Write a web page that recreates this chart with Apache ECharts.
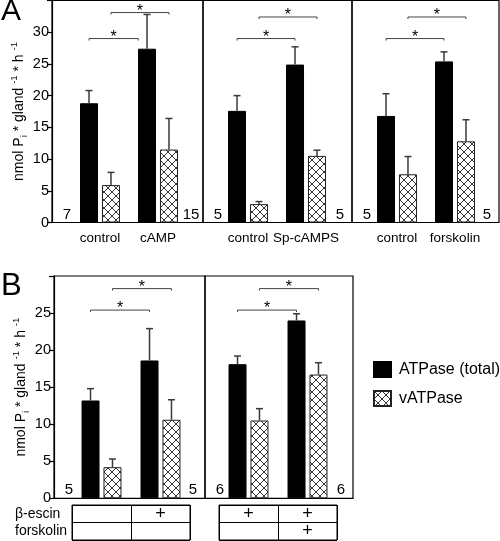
<!DOCTYPE html>
<html><head><meta charset="utf-8">
<script src="https://cdn.jsdelivr.net/npm/echarts@6/dist/echarts.min.js"></script>
<style>html,body{margin:0;padding:0;background:#fff}#c{width:500px;height:541px}</style>
</head><body><div id="c"></div>
<script>
// ---------------- DATA ----------------
const seriesNames = ['ATPase (total)', 'vATPase'];
// Panel A (three sub-panels)
const catsA = [['control', 'cAMP'], ['control', 'Sp-cAMPS'], ['control', 'forskolin']];
const totalA = [[18.8, 27.4], [17.6, 24.9], [16.8, 25.4]];
const totalErrA = [[2.0, 5.4], [2.4, 2.8], [3.5, 1.5]];
const vA = [[5.9, 11.5], [2.9, 10.5], [7.6, 12.8]];
const vErrA = [[2.0, 4.9], [0.4, 0.9], [2.8, 3.4]];
const nA = [[7, 15], [5, 5], [5, 5]];
// Panel B (two sub-panels)
const catsB = [['c1', 'c2'], ['c3', 'c4']];
const totalB = [[13.2, 18.6], [18.1, 24.0]];
const totalErrB = [[1.6, 4.3], [1.1, 0.9]];
const vB = [[4.2, 10.6], [10.5, 16.7]];
const vErrB = [[1.1, 2.7], [1.6, 1.6]];
const nB = [[5, 5], [6, 6]];
// condition table under B
const tableRows = ['β-escin', 'forskolin'];
const escinRow = [['', '+'], ['+', '+']];
const forskolinRow = [['', ''], ['', '+']];
// significance brackets: [fromCat, fromSlot, toCat, toSlot, yValue]
const bracketsA = [
  [[0, 0, 1, -0.4, 29.0], [0, 1, 1, 1, 33.1]],
  [[0, 0, 1, 0, 29.0], [0, 1, 1, 1, 32.4]],
  [[0, 0, 1, 0, 29.0], [0, 1, 1, 1, 32.4]]
];
const bracketsB = [
  [[0, 0, 1, 0, 25.4], [0, 1, 1, 1, 28.3]],
  [[0, 0, 1, 0, 25.4], [0, 1, 1, 1, 28.3]]
];
const yAxisA = { min: 0, max: 35, interval: 5 };
const yAxisB = { min: 0, max: 30, interval: 5 };

// ---------------- LAYOUT / STYLE ----------------
const FONT = "'Liberation Sans',Arial,sans-serif";
const LA = { frameX: [52, 203, 352, 499], top: 0.5, bottom: 222.5, gridLeft: [71, 219, 368], gridW: 116 };
const LB = { frameX: [54, 205, 353], top: 276, bottom: 498.3, gridLeft: [72, 219], gridW: 118 };
const LT = { top: 505, h: 35 };
const BAR_W = 18, BAR_GAP = '22%';

function makeHatch() {
  const c = document.createElement('canvas'); c.width = 8; c.height = 8;
  const x = c.getContext('2d');
  x.fillStyle = '#fff'; x.fillRect(0, 0, 8, 8);
  x.strokeStyle = '#333'; x.lineWidth = 1;
  x.beginPath(); x.moveTo(-1, -1); x.lineTo(9, 9); x.moveTo(9, -1); x.lineTo(-1, 9); x.stroke();
  return c;
}
const hatch = { image: makeHatch(), repeat: 'repeat' };

const chart = echarts.init(document.getElementById('c'), null, { renderer: 'canvas' });

const grids = [], xAxes = [], yAxes = [], series = [], graphics = [];

function errRender(params, api) {
  const cat = api.value(0), val = api.value(1), err = api.value(2), slot = api.value(3);
  const lay = api.barLayout({ count: 2, barWidth: BAR_W, barGap: BAR_GAP });
  const p0 = api.coord([cat, val]), p1 = api.coord([cat, val + err]);
  const x = p0[0] + lay[slot].offsetCenter;
  const st = { stroke: '#3a3a3a', lineWidth: 1.5 };
  return { type: 'group', children: [
    { type: 'line', shape: { x1: x, y1: p0[1], x2: x, y2: p1[1] }, style: st },
    { type: 'line', shape: { x1: x - 3.5, y1: p1[1], x2: x + 3.5, y2: p1[1] }, style: st }
  ] };
}
function bracketRender(params, api) {
  const lay = api.barLayout({ count: 2, barWidth: BAR_W, barGap: BAR_GAP });
  const off = s => lay[0].offsetCenter + s * (lay[1].offsetCenter - lay[0].offsetCenter);
  const y = api.coord([0, api.value(4)])[1];
  const x1 = api.coord([api.value(0), 0])[0] + off(api.value(1));
  const x2 = api.coord([api.value(2), 0])[0] + off(api.value(3));
  return { type: 'group', children: [
    { type: 'polyline', shape: { points: [[x1, y + 2], [x1, y], [x2, y], [x2, y + 2]] }, style: { stroke: '#444', lineWidth: 1, fill: null } },
    { type: 'text', x: (x1 + x2) / 2, y: y - 1, style: { text: '*', font: '16px ' + FONT, fill: '#000', align: 'center', verticalAlign: 'middle', textAlign: 'center', textVerticalAlign: 'middle' } }
  ] };
}

function addPanel(L, i, cats, tot, totErr, vv, vErr, brackets, yCfg, showCatLabels, isFirst) {
  const g = grids.length;
  grids.push({ left: L.gridLeft[i], width: L.gridW, top: L.top, height: L.bottom - L.top, containLabel: false, outerBoundsMode: 'none' });
  xAxes.push({ type: 'category', gridIndex: g, data: cats, boundaryGap: true,
    axisLine: { show: false }, axisTick: { show: false }, splitLine: { show: false },
    axisLabel: { show: showCatLabels, color: '#000', fontFamily: FONT, fontSize: 13.5, margin: 9, interval: 0 } });
  yAxes.push({ type: 'value', gridIndex: g, min: yCfg.min, max: yCfg.max, interval: yCfg.interval,
    show: isFirst, offset: L.gridLeft[i] - L.frameX[i], splitLine: { show: false },
    axisLine: { show: true, lineStyle: { color: '#000', width: 1.2 } },
    axisTick: { show: true, length: 5, lineStyle: { color: '#000', width: 1.2 } },
    axisLabel: { color: '#000', fontFamily: FONT, fontSize: 14.5, margin: 3,
      formatter: v => (v === yCfg.max ? '' : String(v)) },
    name: '{a|nmol P}{s|i}{a| * gland }{u|-1}{a| * h }{u|-1}', nameLocation: 'middle', nameRotate: 90, nameGap: 22,
    nameTextStyle: { color: '#000', fontFamily: FONT, fontSize: 14,
      rich: { a: { fontFamily: FONT, fontSize: 14, color: '#000', lineHeight: 20 },
              s: { fontFamily: FONT, fontSize: 9.5, color: '#000', verticalAlign: 'bottom', lineHeight: 11 },
              u: { fontFamily: FONT, fontSize: 9.5, color: '#000', verticalAlign: 'top', lineHeight: 11 } } } });
  series.push({ type: 'bar', name: seriesNames[0], xAxisIndex: g, yAxisIndex: g, data: tot, barWidth: BAR_W, barGap: BAR_GAP,
    itemStyle: { color: '#000', borderColor: '#000', borderWidth: 1 }, z: 2 });
  series.push({ type: 'bar', name: seriesNames[1], xAxisIndex: g, yAxisIndex: g, data: vv, barWidth: BAR_W, barGap: BAR_GAP,
    itemStyle: { color: hatch, borderColor: '#222', borderWidth: 1 }, z: 2 });
  const errData = [];
  tot.forEach((v, k) => errData.push([k, v, totErr[k], 0]));
  vv.forEach((v, k) => errData.push([k, v, vErr[k], 1]));
  series.push({ type: 'custom', xAxisIndex: g, yAxisIndex: g, data: errData, renderItem: errRender,
    encode: { x: 0, y: 1 }, z: 3, silent: true });
  series.push({ type: 'custom', xAxisIndex: g, yAxisIndex: g, data: brackets, renderItem: bracketRender,
    encode: { x: 0, y: 4 }, z: 3, silent: true });
}

for (let i = 0; i < 3; i++) addPanel(LA, i, catsA[i], totalA[i], totalErrA[i], vA[i], vErrA[i], bracketsA[i], yAxisA, true, i === 0);
for (let i = 0; i < 2; i++) addPanel(LB, i, catsB[i], totalB[i], totalErrB[i], vB[i], vErrB[i], bracketsB[i], yAxisB, false, i === 0);

// condition tables under B
function plusRender(params, api) {
  const p = api.coord([api.value(0), api.value(1)]);
  return { type: 'text', x: p[0], y: p[1], style: { text: '+', font: '18px ' + FONT, fill: '#000', align: 'center', verticalAlign: 'middle', textAlign: 'center', textVerticalAlign: 'middle' } };
}
for (let i = 0; i < 2; i++) {
  const g = grids.length;
  grids.push({ left: LB.gridLeft[i], width: LB.gridW, top: LT.top, height: LT.h, show: true, borderColor: '#000', borderWidth: 1, backgroundColor: 'transparent', containLabel: false, outerBoundsMode: 'none' });
  xAxes.push({ type: 'category', gridIndex: g, data: catsB[i], boundaryGap: true,
    axisLine: { show: false }, axisTick: { show: false }, axisLabel: { show: false },
    splitLine: { show: true, interval: 0, lineStyle: { color: '#000', width: 1 } } });
  yAxes.push({ type: 'category', gridIndex: g, data: tableRows, inverse: true, boundaryGap: true,
    axisLine: { show: false }, axisTick: { show: false },
    axisLabel: { show: i === 0, interval: 0, align: 'left', margin: LB.gridLeft[0] - 15, color: '#000', fontFamily: FONT, fontSize: 14 },
    splitLine: { show: true, interval: 0, lineStyle: { color: '#000', width: 1 } } });
  const pd = [];
  [escinRow[i], forskolinRow[i]].forEach((row, r) => row.forEach((v, c) => { if (v === '+') pd.push([c, r]); }));
  series.push({ type: 'custom', xAxisIndex: g, yAxisIndex: g, data: pd, renderItem: plusRender, encode: { x: 0, y: 1 }, silent: true });
}

// frames
function frames(L) {
  for (let i = 0; i < L.frameX.length - 1; i++) {
    graphics.push({ type: 'rect', z: 1, silent: true,
      shape: { x: L.frameX[i], y: L.top, width: L.frameX[i + 1] - L.frameX[i], height: L.bottom - L.top },
      style: { fill: null, stroke: '#000', lineWidth: 1.2 } });
  }
}
frames(LA); frames(LB);

function nLabels(L, n) {
  n.forEach((pair, i) => {
    graphics.push({ type: 'text', z: 5, x: L.frameX[i] + 15, y: L.bottom - 0.5,
      style: { text: String(pair[0]), font: '15px ' + FONT, fill: '#000', textAlign: 'center', textVerticalAlign: 'bottom', align: 'center', verticalAlign: 'bottom' } });
    graphics.push({ type: 'text', z: 5, x: L.frameX[i + 1] - 12, y: L.bottom - 0.5,
      style: { text: String(pair[1]), font: '15px ' + FONT, fill: '#000', textAlign: 'center', textVerticalAlign: 'bottom', align: 'center', verticalAlign: 'bottom' } });
  });
}
nLabels(LA, nA); nLabels(LB, nB);

graphics.push({ type: 'text', x: 1, y: -3, style: { text: 'A', font: '30px ' + FONT, fill: '#000', textAlign: 'left', textVerticalAlign: 'top', align: 'left', verticalAlign: 'top' } });
graphics.push({ type: 'text', x: 1, y: 271, style: { text: 'B', font: '31px ' + FONT, fill: '#000', textAlign: 'left', textVerticalAlign: 'top', align: 'left', verticalAlign: 'top' } });

chart.setOption({
  animation: false,
  backgroundColor: '#fff',
  grid: grids, xAxis: xAxes, yAxis: yAxes, series: series,
  graphic: { elements: graphics },
  legend: { data: seriesNames, orient: 'vertical', left: 368, top: 356, itemWidth: 17, itemHeight: 15, itemGap: 12,
    selectedMode: false, icon: 'rect',
    textStyle: { color: '#000', fontFamily: FONT, fontSize: 16, padding: [0, 0, 0, 3] } }
});
</script></body></html>
